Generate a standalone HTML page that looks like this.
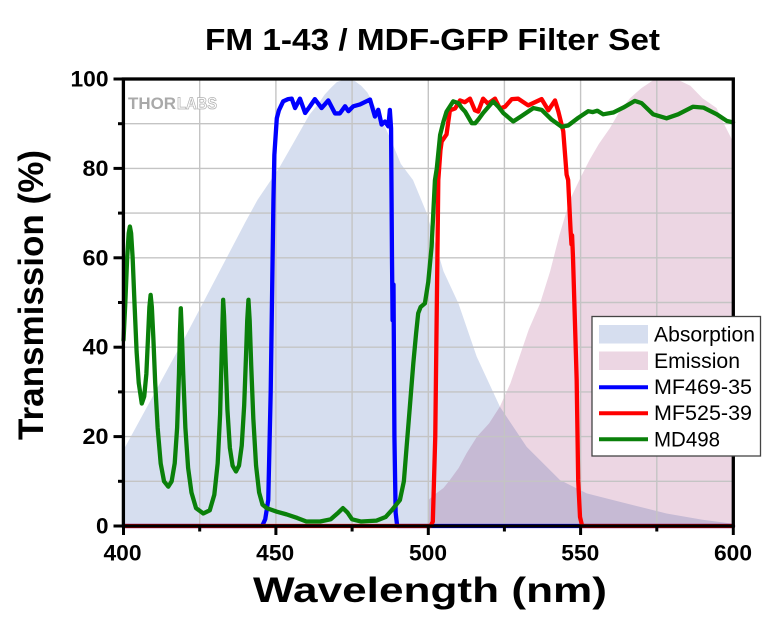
<!DOCTYPE html>
<html>
<head>
<meta charset="utf-8">
<style>
html,body{margin:0;padding:0;background:#fff;}
svg{display:block;}
text{font-family:"Liberation Sans",Arial,sans-serif;}
</style>
</head>
<body>
<svg width="780" height="630" viewBox="0 0 780 630" xmlns="http://www.w3.org/2000/svg">
<rect width="780" height="630" fill="#fff"/>

<!-- Fills in data coordinates -->
<g transform="matrix(3.0475 0 0 -4.47 -1095.5 526)">
  <polygon fill="#d6deef" points="400,0 400,17 410,29.5 420,42 430,55 440,68 444,73 447.5,76.5 451,80 456,86 461,92 464,94.5 466,96.5 468,98 470,99.3 473,100 476,99.5 478,98.5 480,97 484,92 488,86 491,81 495,77.4 499.5,70 502,64 505,57 509.9,49.8 515.9,37.9 523.5,26.7 532.3,17.7 543.2,10.3 552,7.3 560.7,5.8 570,4.2 578.2,2.8 590,1.4 600,0.5 600,0"/>
  <polygon fill="#ecd6e3" style="mix-blend-mode:multiply" points="500,0 500,5.8 502,7 505,8.5 507.1,10.3 510,13 512.6,16.3 516,20 520,23 523.5,26.7 527,32 530,38 533,44 536.7,49.8 540,57 543,65 546.5,73 550,78 553,82 556,85.5 559.6,89 563,93 566.2,95.7 570,98 574,99.8 578,100 582,99.8 586,98.5 590,95.7 594.6,93.5 597,90 600,86 600,0"/>
</g>

<!-- Grid -->
<g stroke="#c4c4c4" stroke-width="1.4">
  <line x1="199.7" y1="79" x2="199.7" y2="526"/>
  <line x1="275.9" y1="79" x2="275.9" y2="526"/>
  <line x1="352.1" y1="79" x2="352.1" y2="526"/>
  <line x1="428.3" y1="79" x2="428.3" y2="526"/>
  <line x1="504.4" y1="79" x2="504.4" y2="526"/>
  <line x1="580.6" y1="79" x2="580.6" y2="526"/>
  <line x1="656.8" y1="79" x2="656.8" y2="526"/>
  <line x1="123.5" y1="481.3" x2="733.3" y2="481.3"/>
  <line x1="123.5" y1="436.6" x2="733.3" y2="436.6"/>
  <line x1="123.5" y1="391.9" x2="733.3" y2="391.9"/>
  <line x1="123.5" y1="347.2" x2="733.3" y2="347.2"/>
  <line x1="123.5" y1="302.5" x2="733.3" y2="302.5"/>
  <line x1="123.5" y1="257.8" x2="733.3" y2="257.8"/>
  <line x1="123.5" y1="213.1" x2="733.3" y2="213.1"/>
  <line x1="123.5" y1="168.4" x2="733.3" y2="168.4"/>
  <line x1="123.5" y1="123.7" x2="733.3" y2="123.7"/>
</g>

<!-- THORLABS watermark -->
<text x="128" y="109" font-size="17" font-weight="bold" fill="#a9a9a9" textLength="48" lengthAdjust="spacingAndGlyphs">THOR</text>
<text x="177" y="109" font-size="17" font-weight="bold" fill="#fff" stroke="#b2b2b2" stroke-width="0.8" textLength="40" lengthAdjust="spacingAndGlyphs">LABS</text>

<!-- Curves -->
<g transform="matrix(3.0475 0 0 -4.47 -1095.5 526)" fill="none" stroke-linejoin="round" stroke-linecap="round">
  <polyline vector-effect="non-scaling-stroke" stroke="#0000ff" stroke-width="4.3" points="400,0 445.5,0 446.5,1.5 447.5,5.8 448.3,30 449.2,73 449.5,83 450.3,91.2 451,93 452.4,95 454,95.5 455.2,95.6 456.3,93.5 457.9,95.6 459.6,92.4 461.2,93.9 462.8,95.5 465,93.5 467.2,95.2 469.4,92.3 471,92.3 472.7,93.9 473.8,92.8 475.4,93.9 477.6,94.3 480.9,95.4 482.5,91.6 483.6,93.1 484.7,89.8 485.8,90.5 486.9,89.4 487.4,93.1 487.8,89 488.1,60 488.3,46 488.6,54 488.9,20 489.3,3 489.8,0 600,0"/>
  <polyline vector-effect="non-scaling-stroke" stroke="#ff0000" stroke-width="4.3" points="400,0 500.8,0 501.5,1 502.3,20 503.3,77.4 504,84 504.4,86 506,87.6 507.1,93 508.8,93.4 510.4,95.2 512,94.8 513.7,95.6 515.3,93 516.4,92.7 518,95.6 519.6,94.5 521.9,95.6 523.5,93.4 525.2,93.8 527.4,95.5 529.5,95.6 532.8,94.1 535,94.8 537.2,95.5 539.4,93 541.6,95.2 542.7,92.7 544.3,88.3 545.4,78.6 545.9,77.4 546.7,66.2 547,63 547.2,65 547.5,60 548.7,32.7 549.2,10.3 549.8,2 550.5,0 600,0"/>
  <polyline vector-effect="non-scaling-stroke" stroke="#0a800a" stroke-width="4.3" points="400,41.6 400.6,50 401.2,60 401.7,65.5 402.1,67 402.5,65.5 403,60 403.6,50 404.3,39 405,32 406,27.4 406.8,29 407.5,34 408.1,43 408.5,49 408.9,51.7 409.3,49 409.8,42 410.4,32 411.2,22 412.2,14 413.3,10 414.7,8.8 415.8,10 416.8,14 417.6,22 418.2,34 418.5,43 418.8,48.7 419.1,44 419.6,34 420.3,22 421.2,13 422.3,7.5 423.8,4 426.2,2.8 428.3,3.5 429.8,7 430.9,14 431.7,25 432.2,38 432.5,46 432.7,50.6 433,47 433.5,37 434.1,26 434.9,17.5 435.8,13.5 436.9,12.2 437.9,13.5 438.8,18 439.6,27 440.2,38 440.6,46 441,50.6 441.4,46 441.9,36 442.6,24 443.5,13.5 444.5,7.5 445.6,4.8 447,4 450.3,3.2 453.5,2.6 457,1.8 460,1 464.5,1 468,1.5 470.5,3 472,4 473.5,3 475,1.5 478,1 483,1.2 486,2 488,3.5 490.7,5.8 492,10 492.9,17.7 494,27 495.1,36.4 496,43 496.7,47.6 497.5,49 498.9,49.8 500,54.6 501.1,62.5 502.2,77.4 502.8,80 503.9,87.5 505,90.5 506,92.7 508.2,95 509.9,94.6 511,93.5 512.1,92.7 514.3,90.1 515.4,90.1 516.5,91 518,92.4 521.3,95 523,93.8 524.6,92.4 527.9,90.5 530.6,91.7 534.5,93.5 537.2,93.1 540.5,90.9 543.8,89.3 545.9,89.6 549.2,91.3 552.5,92.8 554,92.6 555.5,92.9 557.4,92.1 560.7,92.5 564,93.6 567.8,95.1 570,94.6 573.8,92.1 578.2,91.2 582,92.1 586.9,93.8 590.3,93.6 594.7,92.1 598,90.6 600,90.3"/>
</g>

<!-- Frame -->
<rect x="123.4" y="79" width="609.9" height="447" fill="none" stroke="#000" stroke-width="3.3"/>

<!-- Ticks -->
<g stroke="#000" stroke-width="3">
  <line x1="113.5" y1="79" x2="123.5" y2="79"/>
  <line x1="113.5" y1="168.4" x2="123.5" y2="168.4"/>
  <line x1="113.5" y1="257.8" x2="123.5" y2="257.8"/>
  <line x1="113.5" y1="347.2" x2="123.5" y2="347.2"/>
  <line x1="113.5" y1="436.6" x2="123.5" y2="436.6"/>
  <line x1="113.5" y1="526" x2="123.5" y2="526"/>
  <line x1="118" y1="123.7" x2="123.5" y2="123.7"/>
  <line x1="118" y1="213.1" x2="123.5" y2="213.1"/>
  <line x1="118" y1="302.5" x2="123.5" y2="302.5"/>
  <line x1="118" y1="391.9" x2="123.5" y2="391.9"/>
  <line x1="118" y1="481.3" x2="123.5" y2="481.3"/>
  <line x1="123.5" y1="526" x2="123.5" y2="535"/>
  <line x1="275.9" y1="526" x2="275.9" y2="535"/>
  <line x1="428.3" y1="526" x2="428.3" y2="535"/>
  <line x1="580.6" y1="526" x2="580.6" y2="535"/>
  <line x1="733.3" y1="526" x2="733.3" y2="535"/>
  <line x1="199.7" y1="526" x2="199.7" y2="531.5"/>
  <line x1="352.1" y1="526" x2="352.1" y2="531.5"/>
  <line x1="504.4" y1="526" x2="504.4" y2="531.5"/>
  <line x1="656.8" y1="526" x2="656.8" y2="531.5"/>
</g>

<!-- Tick labels -->
<g font-size="22" font-weight="bold" fill="#000" text-anchor="end">
  <text x="108.5" y="86.5" textLength="38" lengthAdjust="spacingAndGlyphs">100</text>
  <text x="108.5" y="175.9" textLength="26" lengthAdjust="spacingAndGlyphs">80</text>
  <text x="108.5" y="265.3" textLength="26" lengthAdjust="spacingAndGlyphs">60</text>
  <text x="108.5" y="354.7" textLength="26" lengthAdjust="spacingAndGlyphs">40</text>
  <text x="108.5" y="444.1" textLength="26" lengthAdjust="spacingAndGlyphs">20</text>
  <text x="108.5" y="533.5" textLength="12.5" lengthAdjust="spacingAndGlyphs">0</text>
</g>
<g font-size="22" font-weight="bold" fill="#000" text-anchor="middle">
  <text x="122.5" y="560.5" textLength="38" lengthAdjust="spacingAndGlyphs">400</text>
  <text x="275.2" y="560.5" textLength="38" lengthAdjust="spacingAndGlyphs">450</text>
  <text x="428" y="560.5" textLength="38" lengthAdjust="spacingAndGlyphs">500</text>
  <text x="580.3" y="560.5" textLength="38" lengthAdjust="spacingAndGlyphs">550</text>
  <text x="733" y="560.5" textLength="38" lengthAdjust="spacingAndGlyphs">600</text>
</g>

<!-- Title & axis labels -->
<text x="205" y="50" font-size="31" font-weight="bold" fill="#000" textLength="455" lengthAdjust="spacingAndGlyphs">FM 1-43 / MDF-GFP Filter Set</text>
<text x="430" y="602" font-size="35" font-weight="bold" fill="#000" text-anchor="middle" textLength="354" lengthAdjust="spacingAndGlyphs">Wavelength (nm)</text>
<text transform="translate(43,295) rotate(-90)" x="0" y="0" font-size="35" font-weight="bold" fill="#000" text-anchor="middle" textLength="290" lengthAdjust="spacingAndGlyphs">Transmission (%)</text>

<!-- Legend -->
<rect x="592" y="316.5" width="168.5" height="139.5" fill="#fff" stroke="#444" stroke-width="1.3"/>
<rect x="599" y="325" width="49" height="18.5" fill="#d6deef"/>
<rect x="599" y="351.5" width="49" height="18.5" fill="#ecd6e3"/>
<line x1="599" y1="387.3" x2="648" y2="387.3" stroke="#0000ff" stroke-width="4"/>
<line x1="599" y1="413.3" x2="648" y2="413.3" stroke="#ff0000" stroke-width="4"/>
<line x1="599" y1="439.3" x2="648" y2="439.3" stroke="#0a800a" stroke-width="4"/>
<g font-size="21" fill="#000">
  <text x="654" y="341.5" textLength="101" lengthAdjust="spacingAndGlyphs">Absorption</text>
  <text x="654" y="368" textLength="86" lengthAdjust="spacingAndGlyphs">Emission</text>
  <text x="654" y="393.8" textLength="98" lengthAdjust="spacingAndGlyphs">MF469-35</text>
  <text x="654" y="420" textLength="98" lengthAdjust="spacingAndGlyphs">MF525-39</text>
  <text x="654" y="446.5" textLength="66" lengthAdjust="spacingAndGlyphs">MD498</text>
</g>
</svg>
</body>
</html>
